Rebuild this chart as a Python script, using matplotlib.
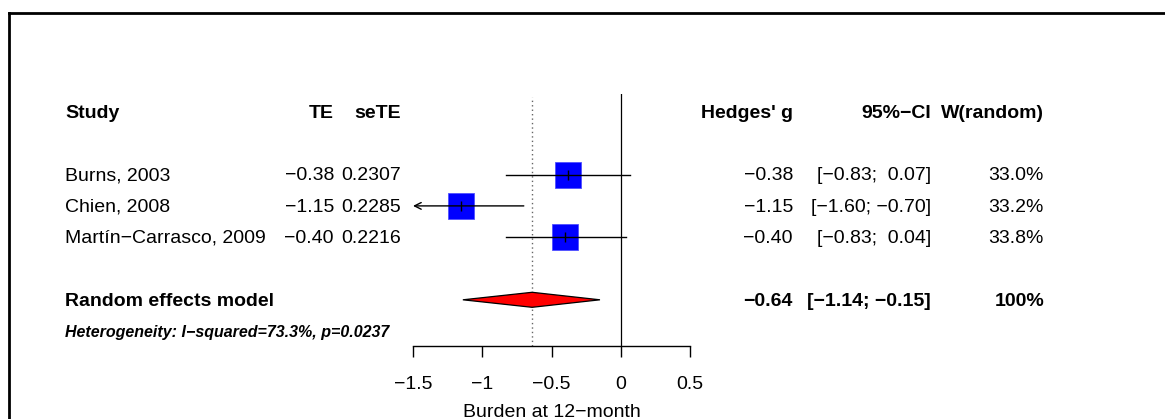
import matplotlib
matplotlib.use("Agg")
import matplotlib.pyplot as plt
import numpy as np
from matplotlib.lines import Line2D
from matplotlib.patches import Polygon
from matplotlib.transforms import blended_transform_factory

# data
studies = ["Burns, 2003", "Chien, 2008", "Martín−Carrasco, 2009"]
te = [-0.38, -1.15, -0.40]
sete = [0.2307, 0.2285, 0.2216]
ci_lo = [-0.83, -1.60, -0.83]
ci_hi = [0.07, -0.70, 0.04]
weights = [33.0, 33.2, 33.8]
pooled = -0.64
pooled_lo = -1.14
pooled_hi = -0.15
xticks = [-1.5, -1.0, -0.5, 0.0, 0.5]
xticklabels = ["−1.5", "−1", "−0.5", "0", "0.5"]
het_text = "Heterogeneity: I−squared=73.3%, p=0.0237"
xlabel = "Burden at 12−month"

plt.rcParams['font.family'] = ['Liberation Sans', 'DejaVu Sans']
FS = 14


def fmt(v, nd=2):
    return f"{v:.{nd}f}".replace('-', '−')


def fmt_ci(lo, hi):
    lo_s = fmt(lo)
    hi_s = fmt(hi)
    if not hi_s.startswith('−'):
        hi_s = ' ' + hi_s
    return f"[{lo_s}; {hi_s}]"


W, H = 1165, 419
fig = plt.figure(figsize=(W / 100, H / 100), dpi=100)

# forest panel: x from -1.5..0.5 spans px 413..690, rows of ~31.3 px
ax_top, ax_bot = 94, 345.7
ax = fig.add_axes([413 / W, (H - ax_bot) / H, (690 - 413) / W, (ax_bot - ax_top) / H])
row0, rowh = 112, 31.3
ax.set_xlim(-1.5, 0.5)
ax.set_ylim((ax_bot - row0) / rowh, (ax_top - row0) / rowh)

rows = [2, 3, 4]
row_pooled = 6
row_het = 7

for s in ['left', 'right', 'top']:
    ax.spines[s].set_visible(False)
ax.spines['bottom'].set_bounds(-1.5, 0.5)
ax.spines['bottom'].set_linewidth(1.0)
ax.set_yticks([])
ax.set_xticks(xticks)
ax.set_xticklabels(xticklabels, fontsize=FS)
ax.tick_params(axis='x', direction='out', length=8, width=1.0, pad=13.5)
ax.set_xlabel(xlabel, fontsize=FS, labelpad=8)

ax.axvline(0, color='black', lw=0.9, zorder=1)
ax.axvline(pooled, ymax=0.99, color='#666666', lw=1.0, ls=(0, (1, 2.2)), zorder=1)

wmax = max(weights)
for t, lo, hi, w, r in zip(te, ci_lo, ci_hi, weights, rows):
    ms = 18.7 * np.sqrt(w / wmax)
    ax.plot([t], [r], marker='s', ms=ms, mfc='#0000ff', mec='#5050ff', mew=0.6,
            ls='none', zorder=3, clip_on=False)
    x0 = max(lo, -1.5)
    x1 = min(hi, 0.5)
    if lo < -1.5:
        ax.annotate('', xy=(x0, r), xytext=(x1, r),
                    arrowprops=dict(arrowstyle='->', lw=1.0, color='black',
                                    mutation_scale=12, shrinkA=0, shrinkB=0),
                    zorder=4, annotation_clip=False)
    else:
        ax.plot([x0, x1], [r, r], color='black', lw=1.0, zorder=4, clip_on=False)
    ax.plot([t], [r], marker='|', ms=7, mew=1.0, color='black', zorder=5, clip_on=False)

dh = 0.24
diamond = Polygon([[pooled_lo, row_pooled], [pooled, row_pooled - dh],
                   [pooled_hi, row_pooled], [pooled, row_pooled + dh]],
                  closed=True, facecolor='#ff0000', edgecolor='black', lw=0.9, zorder=3)
ax.add_patch(diamond)

# text columns (x in figure pixels, y in row units)
tr = blended_transform_factory(fig.transFigure, ax.transData)


def put(xpx, r, s, ha='left', bold=False, italic=False, size=FS):
    ax.text(xpx / W, r + 0.04, s, transform=tr, ha=ha, va='center', fontsize=size,
            fontweight='bold' if bold else 'normal',
            fontstyle='italic' if italic else 'normal', clip_on=False)


x_study, x_te, x_sete, x_g, x_ci, x_w = 65, 334, 401, 793, 931, 1044

put(x_study, 0, "Study", bold=True)
put(x_te, 0, "TE", ha='right', bold=True)
put(x_sete, 0, "seTE", ha='right', bold=True)
put(x_g, 0, "Hedges' g", ha='right', bold=True)
put(x_ci, 0, "95%−CI", ha='right', bold=True)
put(x_w, 0, "W(random)", ha='right', bold=True)

for name, t, se, lo, hi, w, r in zip(studies, te, sete, ci_lo, ci_hi, weights, rows):
    put(x_study, r, name)
    put(x_te, r, fmt(t), ha='right')
    put(x_sete, r, fmt(se, 4), ha='right')
    put(x_g, r, fmt(t), ha='right')
    put(x_ci, r, fmt_ci(lo, hi), ha='right')
    put(x_w, r, f"{w:.1f}%", ha='right')

put(x_study, row_pooled, "Random effects model", bold=True)
put(x_g, row_pooled, fmt(pooled), ha='right', bold=True)
put(x_ci, row_pooled, fmt_ci(pooled_lo, pooled_hi), ha='right', bold=True)
put(x_w, row_pooled, "100%", ha='right', bold=True)
put(x_study, row_het, het_text, bold=True, italic=True, size=11.5)

# frame at top and left edge of the picture
fig.add_artist(Line2D([9 / W, 9 / W], [0, 1 - 13 / H], transform=fig.transFigure,
                      color='black', lw=2, solid_capstyle='projecting'))
fig.add_artist(Line2D([9 / W, 1], [1 - 13 / H, 1 - 13 / H], transform=fig.transFigure,
                      color='black', lw=2, solid_capstyle='projecting'))

fig.savefig('out.png', dpi=100)
